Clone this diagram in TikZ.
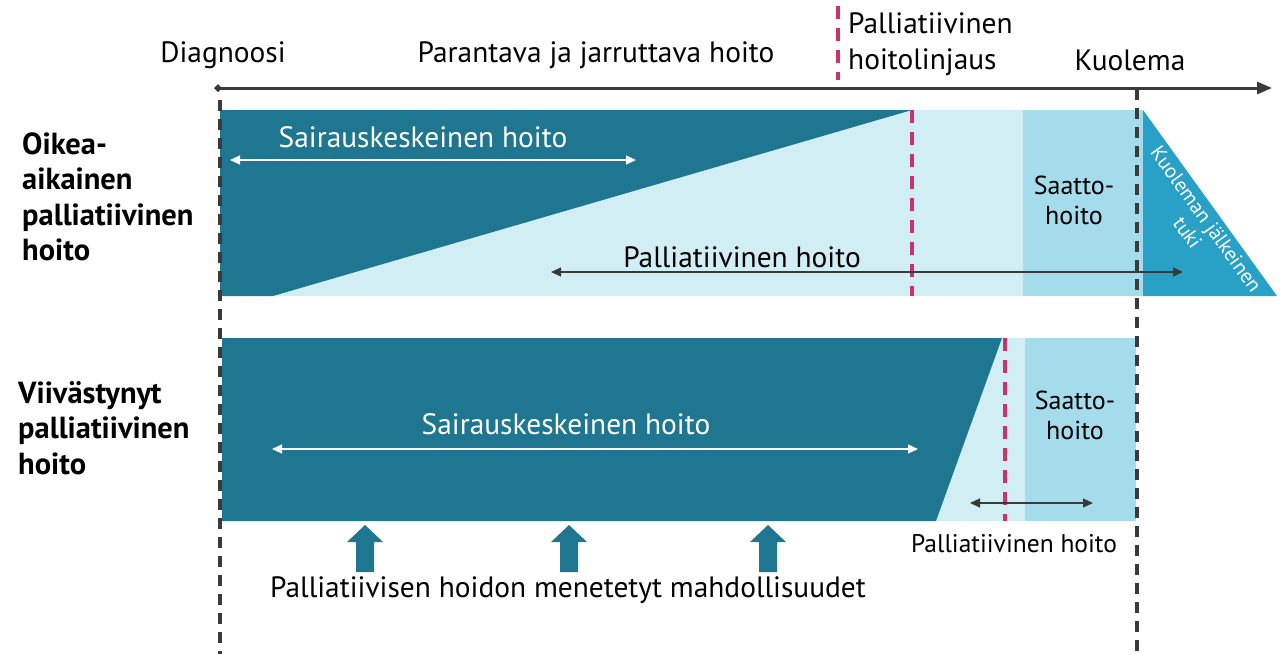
\documentclass[tikz,border=0pt]{standalone}
\usepackage{fontspec}
\setmainfont{PT Sans}
\usetikzlibrary{arrows.meta}
\definecolor{cDark}{HTML}{1F7691}
\definecolor{cLight}{HTML}{D2EEF5}
\definecolor{cSaatto}{HTML}{A4DCEC}
\definecolor{cPost}{HTML}{29A0C5}
\definecolor{cMag}{HTML}{C8336A}
\definecolor{cGray}{HTML}{3A3A3A}
\tikzset{
  lbl/.style={inner sep=0pt, text=black, font=\fontsize{29.4}{36}\selectfont},
  wlbl/.style={lbl, text=white},
  sattolbl/.style={inner sep=0pt, align=center, font=\fontsize{26}{30}\selectfont},
  sidelbl/.style={inner sep=0pt, align=left, anchor=west, font=\bfseries\fontsize{30.5}{35.5}\selectfont},
  magdash/.style={draw=cMag, line width=3.5pt, dash pattern=on 13pt off 9pt},
  graydash/.style={draw=cGray, line width=3.2pt, dash pattern=on 11pt off 8pt},
  darr/.style={{Triangle[length=10pt,width=9pt]}-{Triangle[length=10pt,width=9pt]}, line width=1.2pt, draw=cGray},
  warr/.style={darr, draw=white},
  uparr/.style={fill=cDark},
}
\begin{document}
\begin{tikzpicture}[x=1pt,y=-1pt]
\useasboundingbox (0,0) rectangle (1280,654);
% row 1 bands
\fill[cLight] (220,110) rectangle (1143,296);
\fill[cSaatto] (1023,110) rectangle (1143,296);
\fill[cPost] (1143,110) -- (1277,296) -- (1143,296) -- cycle;
\fill[cDark] (220,110) -- (912,110) -- (273,296) -- (220,296) -- cycle;
% row 2 bands
\fill[cLight] (222,338) rectangle (1136,521);
\fill[cSaatto] (1025,338) rectangle (1136,521);
\fill[cDark] (222,338) -- (1002,338) -- (936,521) -- (222,521) -- cycle;
% axis
\coordinate (ax0) at (214,88);
\coordinate (ax1) at (1272,88);
\draw[cGray, line width=3pt, {Diamond[length=8pt,width=8pt]}-{Triangle[length=15pt,width=12pt]}] (ax0) -- (ax1);
% dashed verticals
\coordinate (d0t) at (220,100); \coordinate (d0b) at (220,654);
\coordinate (d1t) at (1137,89); \coordinate (d1b) at (1137,654);
\draw[graydash] (d0t) -- (d0b);
\draw[graydash] (d1t) -- (d1b);
\coordinate (m0t) at (838,6); \coordinate (m0b) at (838,80);
\draw[magdash] (m0t) -- (m0b);
\coordinate (m1t) at (912,110); \coordinate (m1b) at (912,296);
\draw[magdash] (m1t) -- (m1b);
\coordinate (m2t) at (1005,338); \coordinate (m2b) at (1005,521);
\draw[magdash] (m2t) -- (m2b);
% top labels
\node[lbl] (diag) at (223,55) {Diagnoosi};
\node[lbl] (par) at (596,55) {Parantava ja jarruttava hoito};
\node[lbl, anchor=west, align=left] (phl) at (848,44) {Palliatiivinen\\hoitolinjaus};
\node[lbl] (kuol) at (1130,60) {Kuolema};
% side labels
\node[sidelbl] (oik) at (22,197) {Oikea-\\aikainen\\palliatiivinen\\hoito};
\node[sidelbl] (viiv) at (18,428) {Viivästynyt\\palliatiivinen\\hoito};
% row 1 texts
\node[wlbl] (sk1) at (423,137) {Sairauskeskeinen hoito};
\coordinate (sk1a) at (230,160); \coordinate (sk1b) at (636,160);
\draw[warr] (sk1a) -- (sk1b);
\node[lbl] (ph1) at (742,257) {Palliatiivinen hoito};
\coordinate (ph1a) at (551,272); \coordinate (ph1b) at (1183,272);
\draw[darr] (ph1a) -- (ph1b);
\node[sattolbl] (sh1) at (1074,200) {Saatto-\\hoito};
\node[inner sep=0pt, text=white, align=center, rotate=-54.2, font=\fontsize{20.5}{23}\selectfont] (post) at (1197,226) {Kuoleman jälkeinen\\tuki};
% row 2 texts
\node[wlbl] (sk2) at (566,424) {Sairauskeskeinen hoito};
\coordinate (sk2a) at (272,449); \coordinate (sk2b) at (918,449);
\draw[warr] (sk2a) -- (sk2b);
\node[sattolbl] (sh2) at (1075,415) {Saatto-\\hoito};
\coordinate (ph2a) at (970,503); \coordinate (ph2b) at (1093,503);
\draw[darr] (ph2a) -- (ph2b);
\node[lbl, font=\fontsize{25.5}{28}\selectfont] (ph2) at (1014,544) {Palliatiivinen hoito};
% up arrows
\foreach \x/\n in {365/ua, 569/ub, 768/uc}{
  \fill[uparr] (\x-9,572) -- (\x-9,542) -- (\x-18,542) -- (\x,525) -- (\x+18,542) -- (\x+9,542) -- (\x+9,572) -- cycle;
}
\node[lbl] (lost) at (568,590) {Palliatiivisen hoidon menetetyt mahdollisuudet};
\end{tikzpicture}
\end{document}
